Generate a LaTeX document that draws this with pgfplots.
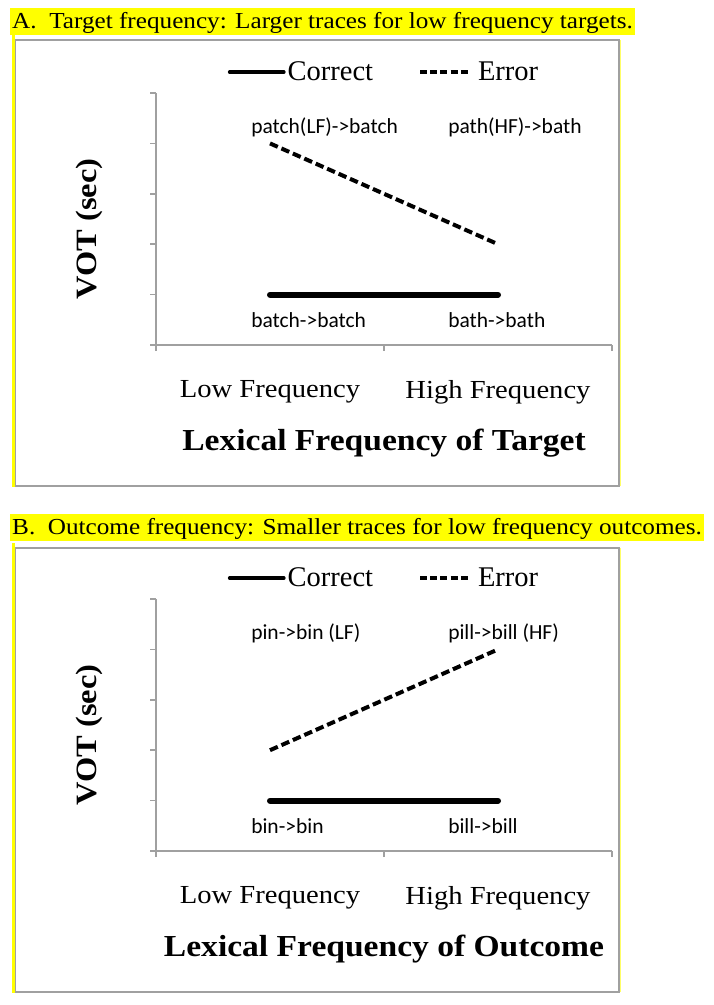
\documentclass[border=0pt]{standalone}
\usepackage{fontspec}
\setmainfont{Liberation Serif}
\newfontfamily\camb[FakeStretch=1.1]{Liberation Serif}
\newfontfamily\calib{Carlito}
\usepackage{pgfplots}
\usepackage{pgfplotstable}
\pgfplotsset{compat=1.18}
\definecolor{axgray}{HTML}{A0A0A0}
\definecolor{hl}{HTML}{FFFF00}

\pgfplotstableread{
x correct errA errB
1 1 4 2
2 1 2 4
}\datatab

\tikzset{lab/.style={font=\calib\fontsize{21.5}{23}\selectfont, anchor=west, inner sep=0pt}}

\pgfplotsset{
  myaxis/.style={
    scale only axis, width=456pt, height=252pt,
    xmin=0.5, xmax=2.5, ymin=0, ymax=5,
    axis lines=left, axis line style={-, axgray, line width=1.5pt},
    tick align=outside, major tick length=6pt,
    tick style={axgray, line width=1.5pt},
    xtick={0.5,1.5,2.5}, xticklabels={Low Frequency, High Frequency}, x tick label as interval,
    ytick={0,1,2,3,4,5}, yticklabels={},
    xticklabel style={font=\camb\fontsize{26}{28}\selectfont, yshift=-26pt},
    ylabel={VOT (sec)},
    ylabel style={font=\camb\bfseries\fontsize{29.5}{31}\selectfont, at={(axis description cs:-0.145,0.46)}, anchor=center},
    xlabel style={font=\camb\bfseries\fontsize{30.5}{32}\selectfont, at={(axis description cs:0.5,-0.388)}, anchor=center},
    legend columns=2,
    legend style={draw=none, fill=none, at={(axis description cs:0.5,1.083)}, anchor=center,
      font=\fontsize{28.5}{30}\selectfont, /tikz/every even column/.append style={column sep=43pt}},
    clip=false,
  },
  corrstyle/.style={black, line width=6pt, line cap=round,
    legend image code/.code={\draw[black, line width=3.8pt] (0pt,0pt) -- (54pt,0pt);}},
  errstyle/.style={black, line width=4pt, dash pattern=on 8.5pt off 4pt,
    legend image code/.code={\draw[black, line width=3.8pt, dash pattern=on 7pt off 3.2pt] (0pt,0pt) -- (48pt,0pt); \path (54pt,0pt);}},
}

\begin{document}
\begin{tikzpicture}
\useasboundingbox (0,0) rectangle (713pt,-1005pt);
% Panel A frame and title
\draw[hl, line width=3pt] (13.5pt,-35pt) -- (13.5pt,-487pt);
\draw[hl!60, line width=1pt] (620.5pt,-40pt) -- (620.5pt,-486pt);
\draw[axgray, line width=1.5pt] (15.5pt,-40pt) rectangle (619pt,-486pt);
\node[anchor=north west, fill=hl, inner xsep=2pt, inner ysep=1pt, text height=19pt, text depth=6pt,
  font=\camb\fontsize{22.9}{24}\selectfont] at (10pt,-8pt)
  {A.\ \ Target frequency: Larger traces for low frequency targets.};
% Panel B frame and title
\draw[hl, line width=3pt] (13.5pt,-543pt) -- (13.5pt,-993pt);
\draw[hl!60, line width=1pt] (620.5pt,-548pt) -- (620.5pt,-992pt);
\draw[axgray, line width=1.5pt] (15.5pt,-548pt) rectangle (619pt,-992pt);
\node[anchor=north west, fill=hl, inner xsep=2pt, inner ysep=1pt, text height=19pt, text depth=6pt,
  font=\camb\fontsize{22.9}{24}\selectfont] at (10pt,-514pt)
  {B.\ \ Outcome frequency: Smaller traces for low frequency outcomes.};

\begin{axis}[myaxis, at={(156pt,-345pt)}, anchor=south west, xlabel={Lexical Frequency of Target}]
\addplot[corrstyle] table[x=x, y=correct] {\datatab};
\addlegendentry{Correct}
\addplot[errstyle] table[x=x, y=errA] {\datatab};
\addlegendentry{Error}
\node[lab] at (axis cs:0.917,4.325) {patch(LF)->batch};
\node[lab] at (axis cs:1.781,4.325) {path(HF)->bath};
\node[lab] at (axis cs:0.917,0.496) {batch->batch};
\node[lab] at (axis cs:1.781,0.496) {bath->bath};
\end{axis}

\begin{axis}[myaxis, at={(156pt,-851pt)}, anchor=south west, xlabel={Lexical Frequency of Outcome}]
\addplot[corrstyle] table[x=x, y=correct] {\datatab};
\addlegendentry{Correct}
\addplot[errstyle] table[x=x, y=errB] {\datatab};
\addlegendentry{Error}
\node[lab] at (axis cs:0.917,4.325) {pin->bin (LF)};
\node[lab] at (axis cs:1.781,4.325) {pill->bill (HF)};
\node[lab] at (axis cs:0.917,0.496) {bin->bin};
\node[lab] at (axis cs:1.781,0.496) {bill->bill};
\end{axis}
\end{tikzpicture}
\end{document}
